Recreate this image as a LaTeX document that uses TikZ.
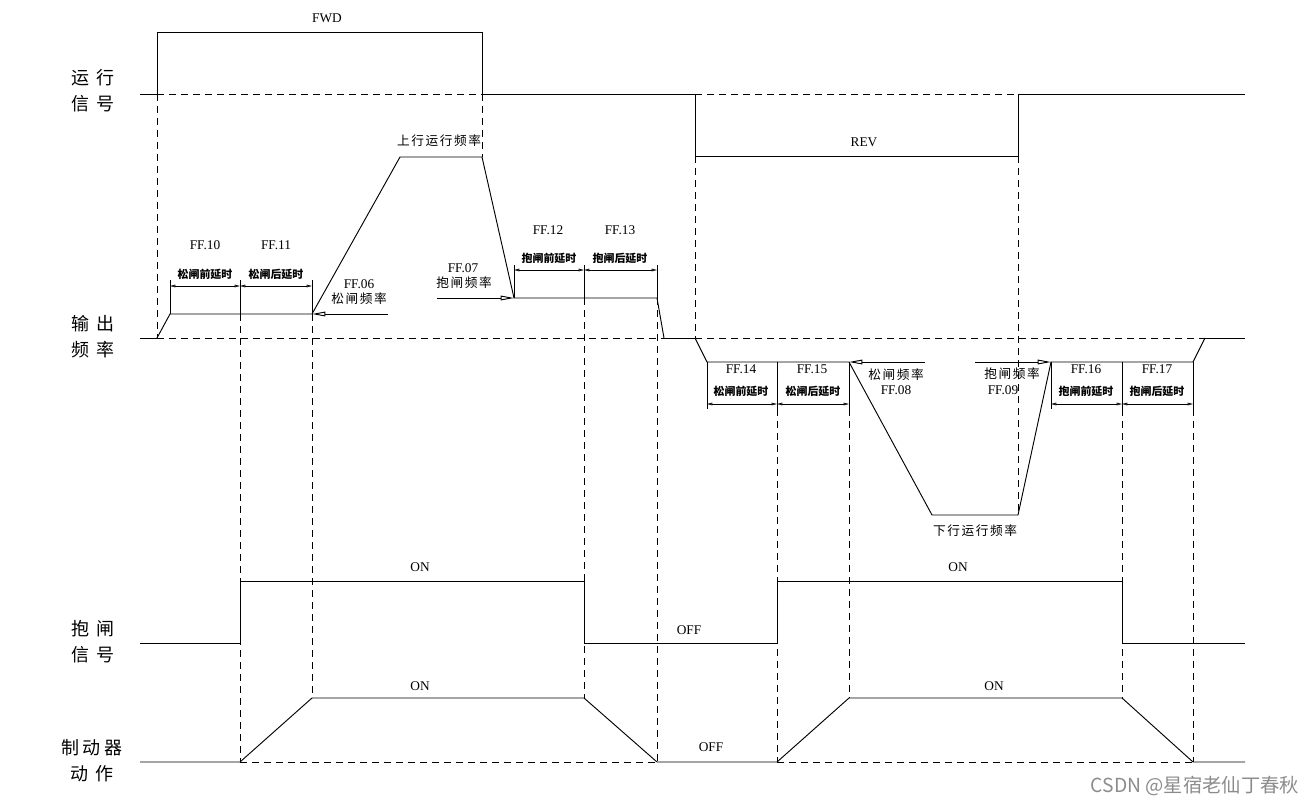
\documentclass[tikz,border=0pt]{standalone}
\usepackage{fontspec}
\setmainfont{Liberation Serif}
\newfontfamily\cjk{Noto Sans CJK SC}
\usetikzlibrary{arrows.meta}
\newcommand{\gp}{\hspace{1.2pt}}
\newcommand{\wg}{\hspace{5pt}}
\begin{document}
\begin{tikzpicture}[x=0.75pt,y=-0.75pt, line width=0.7pt,
 dsh/.style={dash pattern=on 5.5pt off 3.5pt, line width=0.7pt},
 lbl/.style={font=\fontsize{10}{12}\selectfont, inner sep=0pt},
 side/.style={font=\cjk\fontsize{13.5}{15}\selectfont, inner sep=0pt},
 cn/.style={font=\cjk\fontsize{9.5}{11}\selectfont, inner sep=0pt},
 smallcn/.style={font=\cjk\bfseries\fontsize{8.2}{9}\selectfont, inner sep=0pt},
 farr/.style={-{Triangle[open,length=10pt,width=3.5pt]}},
 dimarr/.style={{Triangle[open,length=4pt,width=2pt]}-{Triangle[open,length=4pt,width=2pt]}, line width=0.5pt},
]
\path[use as bounding box] (0,0) rectangle (1316,806);

% ---------- side labels ----------
\node[side] (s1a) at (93,78) {运\wg 行};
\node[side] (s1b) at (93,104) {信\wg 号};
\node[side] (s2a) at (93,324) {输\wg 出};
\node[side] (s2b) at (93,350) {频\wg 率};
\node[side] (s3a) at (93,629) {抱\wg 闸};
\node[side] (s3b) at (93,655) {信\wg 号};
\node[side] (s4a) at (92,748) {制\hspace{3pt}动\hspace{3pt}器};
\node[side] (s4b) at (92,774) {动\wg 作};

% ---------- run signal ----------
\draw (140,94) -- (157,94);
\draw[dsh] (157,94) -- (482,94);
\draw (482,94) -- (695,94);
\draw[dsh] (695,94) -- (1018,94);
\draw (1018,94) -- (1245,94);
\draw (157,94) -- (157,32) -- (482,32) -- (482,94);
\draw (695,94) -- (695,156) -- (1018,156) -- (1018,94);
\node[lbl] (fwd) at (327,18) {FWD};
\node[lbl] (rev) at (864,142) {REV};

% vertical dashed guides
\draw[dsh] (157,94) -- (157,338);
\draw[dsh] (482,94) -- (482,157);
\draw[dsh] (695,156) -- (695,338);
\draw[dsh] (1018,156) -- (1018,515);

% ---------- output frequency ----------
\draw (140,338) -- (157,338);
\draw[dsh] (157,338) -- (664,338);
\draw (664,338) -- (695,338);
\draw[dsh] (695,338) -- (1205,338);
\draw (1205,338) -- (1245,338);

\draw (157,338) -- (170,314) -- (312,314) -- (400,157) -- (482,157) -- (514,298) -- (657,298) -- (664,338);
\draw (695,338) -- (707,362) -- (849,362) -- (932,515) -- (1018,515) -- (1051,362) -- (1193,362) -- (1205,338);

\draw[farr] (388,314) -- (312,314);
\draw[farr] (437,298) -- (514,298);
\draw[farr] (925,362) -- (849,362);
\draw[farr] (975,362) -- (1051,362);

% dimension ticks & arrows (forward)
\foreach \x in {170,240,312} \draw (\x,280) -- (\x,314);
\draw[dimarr] (170,286) -- (240,286);
\draw[dimarr] (240,286) -- (312,286);
\foreach \x in {514,584,657} \draw (\x,265) -- (\x,298);
\draw[dimarr] (514,270) -- (584,270);
\draw[dimarr] (584,270) -- (657,270);
% reverse
\foreach \x in {707,777,849,1051,1122,1193} \draw (\x,362) -- (\x,409);
\draw[dimarr] (707,404) -- (777,404);
\draw[dimarr] (777,404) -- (849,404);
\draw[dimarr] (1051,404) -- (1122,404);
\draw[dimarr] (1122,404) -- (1193,404);

% labels frequency
\node[cn] (up) at (439,141) {上\gp 行\gp 运\gp 行\gp 频\gp 率};
\node[cn] (down) at (975,531) {下\gp 行\gp 运\gp 行\gp 频\gp 率};
\node[lbl] (f10) at (205,245) {FF.10};
\node[lbl] (f11) at (276,245) {FF.11};
\node[smallcn] (t10) at (205,274) {松闸前延时};
\node[smallcn] (t11) at (276,274) {松闸后延时};
\node[lbl] (f06) at (359,284) {FF.06};
\node[cn] (t06) at (359,299) {松\gp 闸\gp 频\gp 率};
\node[lbl] (f07) at (463,268) {FF.07};
\node[cn] (t07) at (464,283) {抱\gp 闸\gp 频\gp 率};
\node[lbl] (f12) at (548,230) {FF.12};
\node[lbl] (f13) at (620,230) {FF.13};
\node[smallcn] (t12) at (549,258) {抱闸前延时};
\node[smallcn] (t13) at (620,258) {抱闸后延时};

\node[lbl] (f14) at (741,369) {FF.14};
\node[lbl] (f15) at (812,369) {FF.15};
\node[smallcn] (t14) at (741,391) {松闸前延时};
\node[smallcn] (t15) at (813,391) {松闸后延时};
\node[cn] (t08) at (896,375) {松\gp 闸\gp 频\gp 率};
\node[lbl] (f08) at (896,390) {FF.08};
\node[cn] (t09) at (1012,374) {抱\gp 闸\gp 频\gp 率};
\node[lbl] (f09) at (1003,390) {FF.09};
\node[lbl] (f16) at (1086,369) {FF.16};
\node[lbl] (f17) at (1157,369) {FF.17};
\node[smallcn] (t16) at (1086,391) {抱闸前延时};
\node[smallcn] (t17) at (1157,391) {抱闸后延时};

% vertical dashed guides down
\draw[dsh] (240,314) -- (240,762);
\draw[dsh] (312,314) -- (312,698);
\draw[dsh] (584,298) -- (584,698);
\draw[dsh] (657,298) -- (657,762);
\draw[dsh] (777,409) -- (777,762);
\draw[dsh] (849,409) -- (849,698);
\draw[dsh] (1122,409) -- (1122,698);
\draw[dsh] (1193,409) -- (1193,762);

% ---------- brake signal ----------
\draw (140,643) -- (240,643) -- (240,581) -- (584,581) -- (584,643) -- (777,643) -- (777,581) -- (1122,581) -- (1122,643) -- (1245,643);
\node[lbl] (on1) at (420,567) {ON};
\node[lbl] (off1) at (689,630) {OFF};
\node[lbl] (on2) at (958,567) {ON};

% ---------- brake action ----------
\draw (140,762) -- (240,762) -- (312,698) -- (584,698) -- (657,762) -- (777,762) -- (849,698) -- (1122,698) -- (1193,762) -- (1245,762);
\draw[dsh] (240,762) -- (657,762);
\draw[dsh] (777,762) -- (1193,762);
\node[lbl] (on3) at (420,686) {ON};
\node[lbl] (off2) at (711,747) {OFF};
\node[lbl] (on4) at (994,686) {ON};

% watermark
\node[font=\cjk\fontsize{14.5}{16}\selectfont, text=black!45, inner sep=0pt] (wm) at (1195,786) {CSDN @星宿老仙丁春秋};
\end{tikzpicture}
\end{document}
